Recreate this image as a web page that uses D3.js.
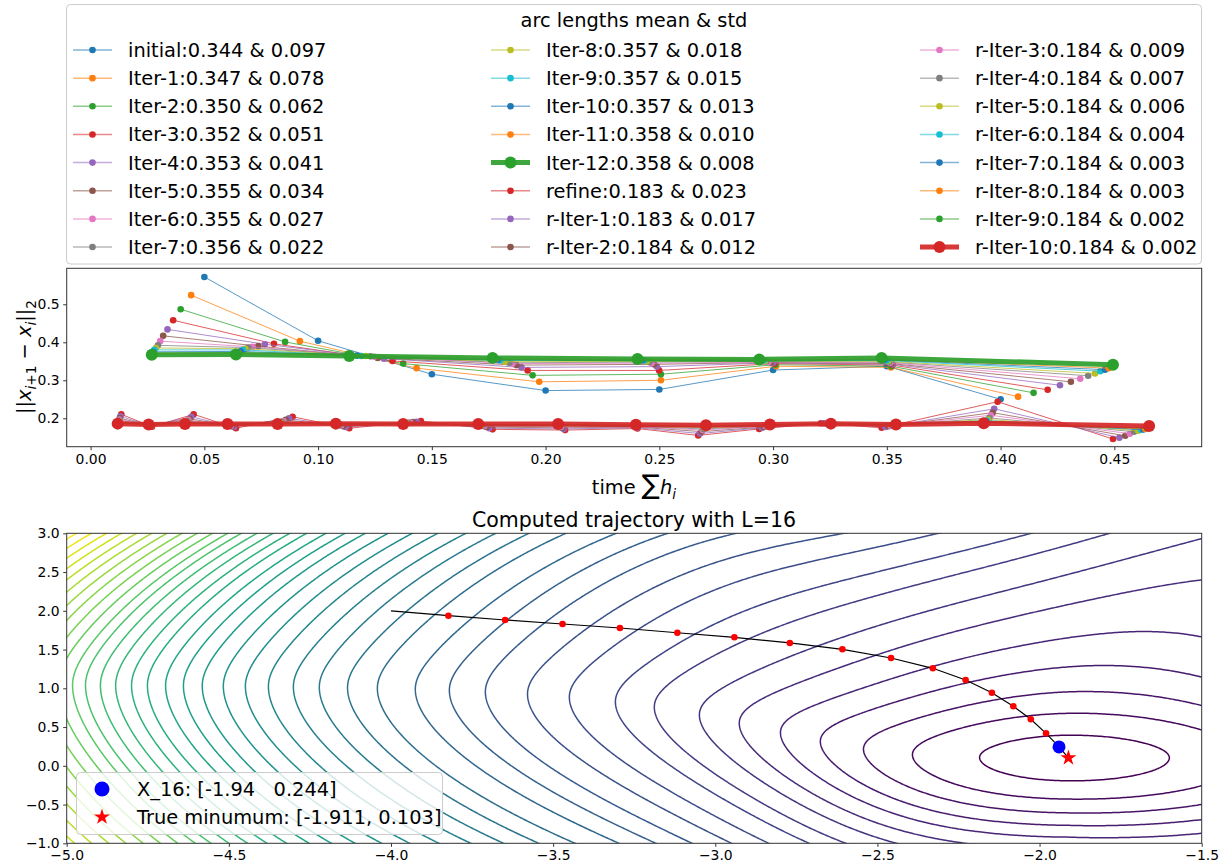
<!DOCTYPE html>
<html>
<head>
<meta charset="utf-8">
<script src="https://cdn.jsdelivr.net/npm/d3@7"></script>
<style>
body { margin: 0; background: #fff; }
svg { font-family: "DejaVu Sans", sans-serif; }
</style>
</head>
<body>
<svg id="chart" width="1232" height="867"></svg>
<script>
// matplotlib tab10 cycle
var palette = ["#1f77b4", "#ff7f0e", "#2ca02c", "#d62728", "#9467bd", "#8c564b", "#e377c2", "#7f7f7f", "#bcbd22", "#17becf"];

// ---- top panel: arc length per step, coarse iterations ----
var mainNames = ["initial", "Iter-1", "Iter-2", "Iter-3", "Iter-4", "Iter-5", "Iter-6", "Iter-7", "Iter-8", "Iter-9", "Iter-10", "Iter-11", "Iter-12"];
var mainMeans = ["0.344", "0.347", "0.350", "0.352", "0.353", "0.355", "0.355", "0.356", "0.357", "0.357", "0.357", "0.358", "0.358"];
var mainStds = ["0.097", "0.078", "0.062", "0.051", "0.041", "0.034", "0.027", "0.022", "0.018", "0.015", "0.013", "0.010", "0.008"];
var mainTimes = [
    [0.050, 0.100, 0.150, 0.200, 0.250, 0.300, 0.350, 0.400],
    [0.0442, 0.0920, 0.1433, 0.1972, 0.2507, 0.3013, 0.3518, 0.4077],
    [0.0396, 0.0855, 0.1374, 0.1943, 0.2507, 0.3010, 0.3520, 0.4145],
    [0.0363, 0.0806, 0.1327, 0.1921, 0.2499, 0.3005, 0.3525, 0.4207],
    [0.0338, 0.0766, 0.1290, 0.1894, 0.2489, 0.3000, 0.3525, 0.4261],
    [0.0319, 0.0737, 0.1262, 0.1872, 0.2477, 0.2990, 0.3520, 0.4309],
    [0.0306, 0.0712, 0.1247, 0.1855, 0.2466, 0.2980, 0.3515, 0.4350],
    [0.0296, 0.0693, 0.1230, 0.1840, 0.2455, 0.2970, 0.3510, 0.4385],
    [0.0287, 0.0680, 0.1210, 0.1820, 0.2445, 0.2965, 0.3505, 0.4415],
    [0.0280, 0.0670, 0.1190, 0.1800, 0.2435, 0.2960, 0.3500, 0.4438],
    [0.0275, 0.0660, 0.1170, 0.1790, 0.2425, 0.2950, 0.3490, 0.4459],
    [0.0271, 0.0650, 0.1150, 0.1780, 0.2415, 0.2945, 0.3480, 0.4475],
    [0.0269, 0.0639, 0.1137, 0.1767, 0.2404, 0.2939, 0.3477, 0.4494]
];
var mainArcs = [
    [0.572, 0.404, 0.316, 0.273, 0.276, 0.327, 0.337, 0.250],
    [0.524, 0.403, 0.332, 0.296, 0.300, 0.337, 0.334, 0.257],
    [0.487, 0.401, 0.344, 0.313, 0.316, 0.341, 0.337, 0.267],
    [0.458, 0.396, 0.351, 0.326, 0.326, 0.344, 0.340, 0.275],
    [0.434, 0.395, 0.357, 0.334, 0.336, 0.346, 0.342, 0.287],
    [0.417, 0.390, 0.359, 0.340, 0.342, 0.347, 0.344, 0.296],
    [0.403, 0.388, 0.362, 0.344, 0.345, 0.348, 0.346, 0.304],
    [0.392, 0.386, 0.363, 0.346, 0.348, 0.350, 0.348, 0.312],
    [0.385, 0.383, 0.364, 0.349, 0.350, 0.351, 0.350, 0.318],
    [0.380, 0.380, 0.364, 0.352, 0.352, 0.352, 0.352, 0.324],
    [0.375, 0.376, 0.365, 0.354, 0.353, 0.353, 0.354, 0.328],
    [0.371, 0.372, 0.365, 0.356, 0.355, 0.354, 0.356, 0.332],
    [0.367, 0.368, 0.364, 0.359, 0.356, 0.355, 0.359, 0.341]
];

// ---- top panel: refined iterations ----
var refNames = ["refine", "r-Iter-1", "r-Iter-2", "r-Iter-3", "r-Iter-4", "r-Iter-5", "r-Iter-6", "r-Iter-7", "r-Iter-8", "r-Iter-9", "r-Iter-10"];
var refMeans = ["0.183", "0.183", "0.184", "0.184", "0.184", "0.184", "0.184", "0.184", "0.184", "0.184", "0.184"];
var refStds = ["0.023", "0.017", "0.012", "0.009", "0.007", "0.006", "0.004", "0.003", "0.003", "0.002", "0.002"];
var refTimes = [
    [0.0135, 0.0270, 0.0453, 0.0639, 0.0888, 0.1137, 0.1452, 0.1767, 0.2086, 0.2404, 0.2671, 0.2939, 0.3210, 0.3477, 0.3987, 0.4494],
    [0.0131, 0.0266, 0.0443, 0.0630, 0.0872, 0.1122, 0.1433, 0.1752, 0.2079, 0.2403, 0.2679, 0.2951, 0.3221, 0.3494, 0.3972, 0.4522],
    [0.0128, 0.0263, 0.0435, 0.0622, 0.0858, 0.1110, 0.1417, 0.1740, 0.2073, 0.2402, 0.2686, 0.2961, 0.3230, 0.3507, 0.3965, 0.4548],
    [0.0126, 0.0261, 0.0429, 0.0616, 0.0848, 0.1101, 0.1405, 0.1730, 0.2068, 0.2401, 0.2691, 0.2968, 0.3237, 0.3517, 0.3957, 0.4568],
    [0.0124, 0.0259, 0.0425, 0.0612, 0.0840, 0.1094, 0.1396, 0.1722, 0.2064, 0.2400, 0.2695, 0.2973, 0.3242, 0.3524, 0.3950, 0.4587],
    [0.0123, 0.0258, 0.0422, 0.0609, 0.0835, 0.1089, 0.1389, 0.1716, 0.2061, 0.2399, 0.2698, 0.2977, 0.3246, 0.3529, 0.3945, 0.4605],
    [0.0122, 0.0257, 0.0420, 0.0607, 0.0831, 0.1085, 0.1384, 0.1712, 0.2059, 0.2399, 0.2700, 0.2980, 0.3249, 0.3533, 0.3940, 0.4617],
    [0.0121, 0.0256, 0.0418, 0.0605, 0.0828, 0.1082, 0.1380, 0.1709, 0.2058, 0.2398, 0.2702, 0.2982, 0.3251, 0.3536, 0.3935, 0.4627],
    [0.0120, 0.0256, 0.0417, 0.0604, 0.0826, 0.1080, 0.1377, 0.1707, 0.2057, 0.2398, 0.2703, 0.2984, 0.3252, 0.3538, 0.3930, 0.4636],
    [0.0120, 0.0255, 0.0416, 0.0603, 0.0824, 0.1079, 0.1375, 0.1705, 0.2056, 0.2397, 0.2704, 0.2985, 0.3253, 0.3539, 0.3928, 0.4644],
    [0.0119, 0.0255, 0.0415, 0.0602, 0.0822, 0.1078, 0.1374, 0.1704, 0.2055, 0.2397, 0.2705, 0.2986, 0.3254, 0.3540, 0.3926, 0.4653]
];
var refArcs = [
    [0.2105, 0.178, 0.2105, 0.174, 0.204, 0.174, 0.193, 0.171, 0.169, 0.173, 0.155, 0.172, 0.187, 0.175, 0.2437, 0.1455],
    [0.205, 0.180, 0.204, 0.177, 0.200, 0.177, 0.191, 0.174, 0.172, 0.175, 0.160, 0.175, 0.187, 0.177, 0.225, 0.149],
    [0.200, 0.181, 0.199, 0.179, 0.196, 0.179, 0.190, 0.177, 0.175, 0.177, 0.165, 0.177, 0.187, 0.179, 0.2148, 0.154],
    [0.197, 0.182, 0.196, 0.180, 0.193, 0.181, 0.189, 0.179, 0.177, 0.178, 0.169, 0.179, 0.187, 0.180, 0.208, 0.1595],
    [0.194, 0.183, 0.193, 0.181, 0.191, 0.182, 0.188, 0.180, 0.179, 0.179, 0.172, 0.180, 0.186, 0.181, 0.201, 0.1647],
    [0.192, 0.183, 0.191, 0.182, 0.189, 0.183, 0.187, 0.181, 0.180, 0.180, 0.175, 0.181, 0.186, 0.182, 0.197, 0.1674],
    [0.190, 0.184, 0.189, 0.183, 0.188, 0.184, 0.186, 0.182, 0.181, 0.181, 0.177, 0.182, 0.186, 0.183, 0.194, 0.170],
    [0.189, 0.184, 0.188, 0.184, 0.187, 0.185, 0.186, 0.183, 0.182, 0.181, 0.178, 0.182, 0.186, 0.183, 0.192, 0.1705],
    [0.188, 0.184, 0.187, 0.184, 0.186, 0.185, 0.186, 0.184, 0.183, 0.182, 0.179, 0.183, 0.186, 0.184, 0.190, 0.172],
    [0.187, 0.184, 0.186, 0.185, 0.186, 0.186, 0.185, 0.184, 0.184, 0.182, 0.180, 0.183, 0.186, 0.184, 0.189, 0.174],
    [0.186, 0.184, 0.185, 0.185, 0.185, 0.186, 0.185, 0.185, 0.185, 0.183, 0.182, 0.184, 0.186, 0.184, 0.187, 0.180]
];

var topXTicks = [0.00, 0.05, 0.10, 0.15, 0.20, 0.25, 0.30, 0.35, 0.40, 0.45];
var topYTicks = [0.2, 0.3, 0.4, 0.5];

// ---- bottom panel: trajectory ----
var trajX = [-4.0, -3.823, -3.648, -3.471, -3.294, -3.117, -2.941, -2.770, -2.608, -2.458, -2.329, -2.228, -2.147, -2.081, -2.027, -1.980];
var trajY = [2.0, 1.937, 1.881, 1.830, 1.778, 1.717, 1.658, 1.585, 1.503, 1.391, 1.258, 1.107, 0.943, 0.768, 0.600, 0.419];
var finalPoint = [-1.94, 0.244];
var trueMin = [-1.911, 0.103];
var botXTicks = [-5.0, -4.5, -4.0, -3.5, -3.0, -2.5, -2.0, -1.5];
var botYTicks = [-1.0, -0.5, 0.0, 0.5, 1.0, 1.5, 2.0, 2.5, 3.0];
// distance of each contour's left tip from the minimum (read along the valley)
var contourRadii = [0.274, 0.481, 0.632, 0.765, 0.888, 1.015, 1.138, 1.277, 1.397, 1.539,
    1.668, 1.798, 1.909, 2.014, 2.131, 2.223, 2.310, 2.390, 2.467, 2.538,
    2.606, 2.671, 2.729, 2.784, 2.840, 2.889, 2.938, 2.985, 3.031, 3.071,
    3.116, 3.161, 3.206, 3.251, 3.296, 3.341, 3.386, 3.431, 3.476, 3.521];

var svg = d3.select("#chart");

//Scales for both panels
var xTop = d3.scaleLinear().domain([-0.0105, 0.4884]).range([66.7, 1201.7]);
var yTop = d3.scaleLinear().domain([0.1253, 0.5947]).range([446.7, 268.3]);
var xBot = d3.scaleLinear().domain([-5, -1.5]).range([66.7, 1201.7]);
var yBot = d3.scaleLinear().domain([-1, 3]).range([843.3, 533.3]);

//Small helper for matplotlib-like axes
function drawAxis(axis, tx, ty) {
    var g = svg.append("g").attr("transform", "translate(" + tx + "," + ty + ")").call(axis);
    g.select(".domain").remove();
    g.selectAll(".tick line").attr("stroke", "#000").attr("stroke-width", 0.8);
    g.selectAll(".tick text").style("font-size", "13.9px").style("font-family", "DejaVu Sans").attr("fill", "#000");
    return g;
}

// ================= TOP PANEL =================
drawAxis(d3.axisBottom(xTop).tickValues(topXTicks).tickFormat(d3.format(".2f")).tickSize(3.5).tickPadding(3.5), 0, 446.7);
drawAxis(d3.axisLeft(yTop).tickValues(topYTicks).tickFormat(d3.format(".1f")).tickSize(3.5).tickPadding(3.5), 66.7, 0);

var topPlot = svg.append("g");
var lineTop = d3.line().x(function (d) { return xTop(d[0]); }).y(function (d) { return yTop(d[1]); });

function drawSeries(times, arcs, color, thick) {
    var pts = times.map(function (t, i) { return [t, arcs[i]]; });
    topPlot.append("path").attr("d", lineTop(pts))
        .attr("fill", "none").attr("stroke", color)
        .attr("stroke-width", thick ? 5 : 1)
        .attr("stroke-opacity", thick ? 0.92 : 0.75);
    topPlot.selectAll(null).data(pts).enter().append("circle")
        .attr("cx", function (d) { return xTop(d[0]); })
        .attr("cy", function (d) { return yTop(d[1]); })
        .attr("r", thick ? 6 : 3.3)
        .attr("fill", color);
}

mainNames.forEach(function (n, i) {
    drawSeries(mainTimes[i], mainArcs[i], palette[i % 10], i === mainNames.length - 1);
});
refNames.forEach(function (n, i) {
    drawSeries(refTimes[i], refArcs[i], palette[(i + 3) % 10], i === refNames.length - 1);
});

svg.append("rect").attr("x", 66.7).attr("y", 268.3).attr("width", 1135).attr("height", 178.4)
    .attr("fill", "none").attr("stroke", "#333").attr("stroke-width", 1);

//y label ||x_{i+1} - x_i||_2
var yl = svg.append("text").attr("transform", "translate(31,357) rotate(-90)")
    .attr("text-anchor", "middle").style("font-size", "19.4px");
yl.append("tspan").text("||");
yl.append("tspan").style("font-style", "italic").text("x");
yl.append("tspan").attr("dy", 5).style("font-size", "13.6px").style("font-style", "italic").text("i");
yl.append("tspan").style("font-size", "13.6px").text("+1");
yl.append("tspan").attr("dy", -5).text(" \u2212 ");
yl.append("tspan").style("font-style", "italic").text("x");
yl.append("tspan").attr("dy", 5).style("font-size", "13.6px").style("font-style", "italic").text("i");
yl.append("tspan").attr("dy", -5).text("||");
yl.append("tspan").attr("dy", 5).style("font-size", "13.6px").text("2");

//x label time sum h_i
var xl = svg.append("text").attr("x", 634).attr("y", 494).attr("text-anchor", "middle").style("font-size", "19.4px");
xl.append("tspan").text("time ");
xl.append("tspan").style("font-size", "27px").text("\u2211");
xl.append("tspan").style("font-style", "italic").text("h");
xl.append("tspan").attr("dy", 5).style("font-size", "13.6px").style("font-style", "italic").text("i");

//Legend with all iterations
var legend = svg.append("g");
legend.append("rect").attr("x", 66.5).attr("y", 4.5).attr("width", 1135).attr("height", 259.5).attr("rx", 4)
    .attr("fill", "#fff").attr("fill-opacity", 0.8).attr("stroke", "#ccc");
legend.append("text").attr("x", 634).attr("y", 27).attr("text-anchor", "middle").style("font-size", "19.4px")
    .text("arc lengths mean & std");

var legendItems = [];
mainNames.forEach(function (n, i) {
    legendItems.push({ label: n + ":" + mainMeans[i] + " & " + mainStds[i], color: palette[i % 10], thick: i === mainNames.length - 1 });
});
refNames.forEach(function (n, i) {
    legendItems.push({ label: n + ":" + refMeans[i] + " & " + refStds[i], color: palette[(i + 3) % 10], thick: i === refNames.length - 1 });
});
var colText = [128, 546, 975];
legendItems.forEach(function (d, i) {
    var col = Math.floor(i / 8), row = i % 8;
    var tx = colText[col], cy = 50 + row * 28.15;
    legend.append("line").attr("x1", tx - 55).attr("x2", tx - 16).attr("y1", cy).attr("y2", cy)
        .attr("stroke", d.color).attr("stroke-width", d.thick ? 5 : 1.5).attr("stroke-opacity", d.thick ? 0.92 : 0.55);
    legend.append("circle").attr("cx", tx - 35.5).attr("cy", cy).attr("r", d.thick ? 6 : 3.3).attr("fill", d.color);
    legend.append("text").attr("x", tx).attr("y", cy + 7).style("font-size", "19.4px").text(d.label);
});

// ================= BOTTOM PANEL =================
//Warped distance from the minimum: the valley bends up on the left and the
//contours stretch toward the upper right
function warpDist(x, y) {
    var u = x - trueMin[0], v = y - trueMin[1];
    var s = Math.max(0, -u);
    var s4 = s * s * s * s;
    var t = v - 0.95 * s4 / (s4 + 1.2);
    var kap = t > 0 ? 0.10 : 0.10 / (1 + 0.15 * s * s);
    var U = u - kap * t * t;
    var Us = U < 0 ? U : 0.88 * U;
    var a = 0.72 + 0.43 / (1 + Math.exp((u + 0.45) / 0.2));
    var Ty = t > 0 ? t / (1 + a * t * t / (t + 0.7))
                   : 0.95 * t / (1 + 0.1 * -t + 0.12 * s * -t);
    return Math.sqrt(Us * Us + Ty * Ty);
}

var gx0 = -5.06, gx1 = -1.44, gy0 = -1.06, gy1 = 3.06, nx = 560, ny = 280;
var dxg = (gx1 - gx0) / nx, dyg = (gy1 - gy0) / ny;
var grid = new Array(nx * ny);
var maxIn = 0;
for (var j = 0; j < ny; j++) {
    for (var i = 0; i < nx; i++) {
        var gx = gx0 + (i + 0.5) * dxg, gy = gy1 - (j + 0.5) * dyg;
        var val = warpDist(gx, gy);
        grid[j * nx + i] = val;
        if (gx >= -5 && gx <= -1.5 && gy >= -1 && gy <= 3) maxIn = Math.max(maxIn, val);
    }
}
var levels = contourRadii.filter(function (r) { return r < maxIn; });

svg.append("clipPath").attr("id", "botClip").append("rect")
    .attr("x", 66.7).attr("y", 533.3).attr("width", 1135).attr("height", 310);

var proj = d3.geoTransform({
    point: function (px, py) { this.stream.point(xBot(gx0 + px * dxg), yBot(gy1 - py * dyg)); }
});
var contourPath = d3.geoPath(proj);
var contours = d3.contours().size([nx, ny]).thresholds(levels)(grid);

var botPlot = svg.append("g").attr("clip-path", "url(#botClip)");
botPlot.selectAll("path.contour").data(contours).enter().append("path")
    .attr("class", "contour")
    .attr("d", contourPath)
    .attr("fill", "none")
    .attr("stroke", function (d, i) { return d3.interpolateViridis(i / (levels.length - 1)); })
    .attr("stroke-width", 1.5);

//Trajectory line and points
var trajPts = trajX.map(function (x, i) { return [x, trajY[i]]; });
var linePts = trajPts.concat([finalPoint, trueMin]);
botPlot.append("path")
    .attr("d", d3.line().x(function (d) { return xBot(d[0]); }).y(function (d) { return yBot(d[1]); })(linePts))
    .attr("fill", "none").attr("stroke", "#000").attr("stroke-width", 1.2);
botPlot.selectAll("circle.step").data(trajPts.slice(1)).enter().append("circle")
    .attr("class", "step")
    .attr("cx", function (d) { return xBot(d[0]); })
    .attr("cy", function (d) { return yBot(d[1]); })
    .attr("r", 3.3).attr("fill", "red");
botPlot.append("circle").attr("cx", xBot(finalPoint[0])).attr("cy", yBot(finalPoint[1]))
    .attr("r", 6.5).attr("fill", "blue");
var star = d3.symbol().type(d3.symbolStar).size(80);
botPlot.append("path").attr("d", star())
    .attr("transform", "translate(" + xBot(trueMin[0]) + "," + yBot(trueMin[1]) + ")")
    .attr("fill", "red");

drawAxis(d3.axisBottom(xBot).tickValues(botXTicks).tickFormat(d3.format(".1f")).tickSize(3.5).tickPadding(3.5), 0, 843.3);
drawAxis(d3.axisLeft(yBot).tickValues(botYTicks).tickFormat(d3.format(".1f")).tickSize(3.5).tickPadding(3.5), 66.7, 0);

svg.append("rect").attr("x", 66.7).attr("y", 533.3).attr("width", 1135).attr("height", 310)
    .attr("fill", "none").attr("stroke", "#333").attr("stroke-width", 1);

svg.append("text").attr("x", 634).attr("y", 527).attr("text-anchor", "middle").style("font-size", "20.5px")
    .text("Computed trajectory with L=16");

//Bottom legend
var bl = svg.append("g");
bl.append("rect").attr("x", 76.5).attr("y", 772.5).attr("width", 366).attr("height", 62).attr("rx", 4)
    .attr("fill", "#fff").attr("fill-opacity", 0.8).attr("stroke", "#ccc");
bl.append("circle").attr("cx", 102).attr("cy", 789).attr("r", 7.5).attr("fill", "blue");
bl.append("path").attr("d", d3.symbol().type(d3.symbolStar).size(80)()).attr("transform", "translate(102,817)").attr("fill", "red");
bl.append("text").attr("x", 137).attr("y", 796).attr("xml:space", "preserve").style("white-space", "pre").style("font-size", "19.4px")
    .text("X_16: [" + finalPoint[0].toFixed(2) + "   " + finalPoint[1].toFixed(3) + "]");
bl.append("text").attr("x", 137).attr("y", 824).style("font-size", "19.4px")
    .text("True minumum: [" + trueMin[0].toFixed(3) + ", " + trueMin[1].toFixed(3) + "]");
</script>
</body>
</html>
